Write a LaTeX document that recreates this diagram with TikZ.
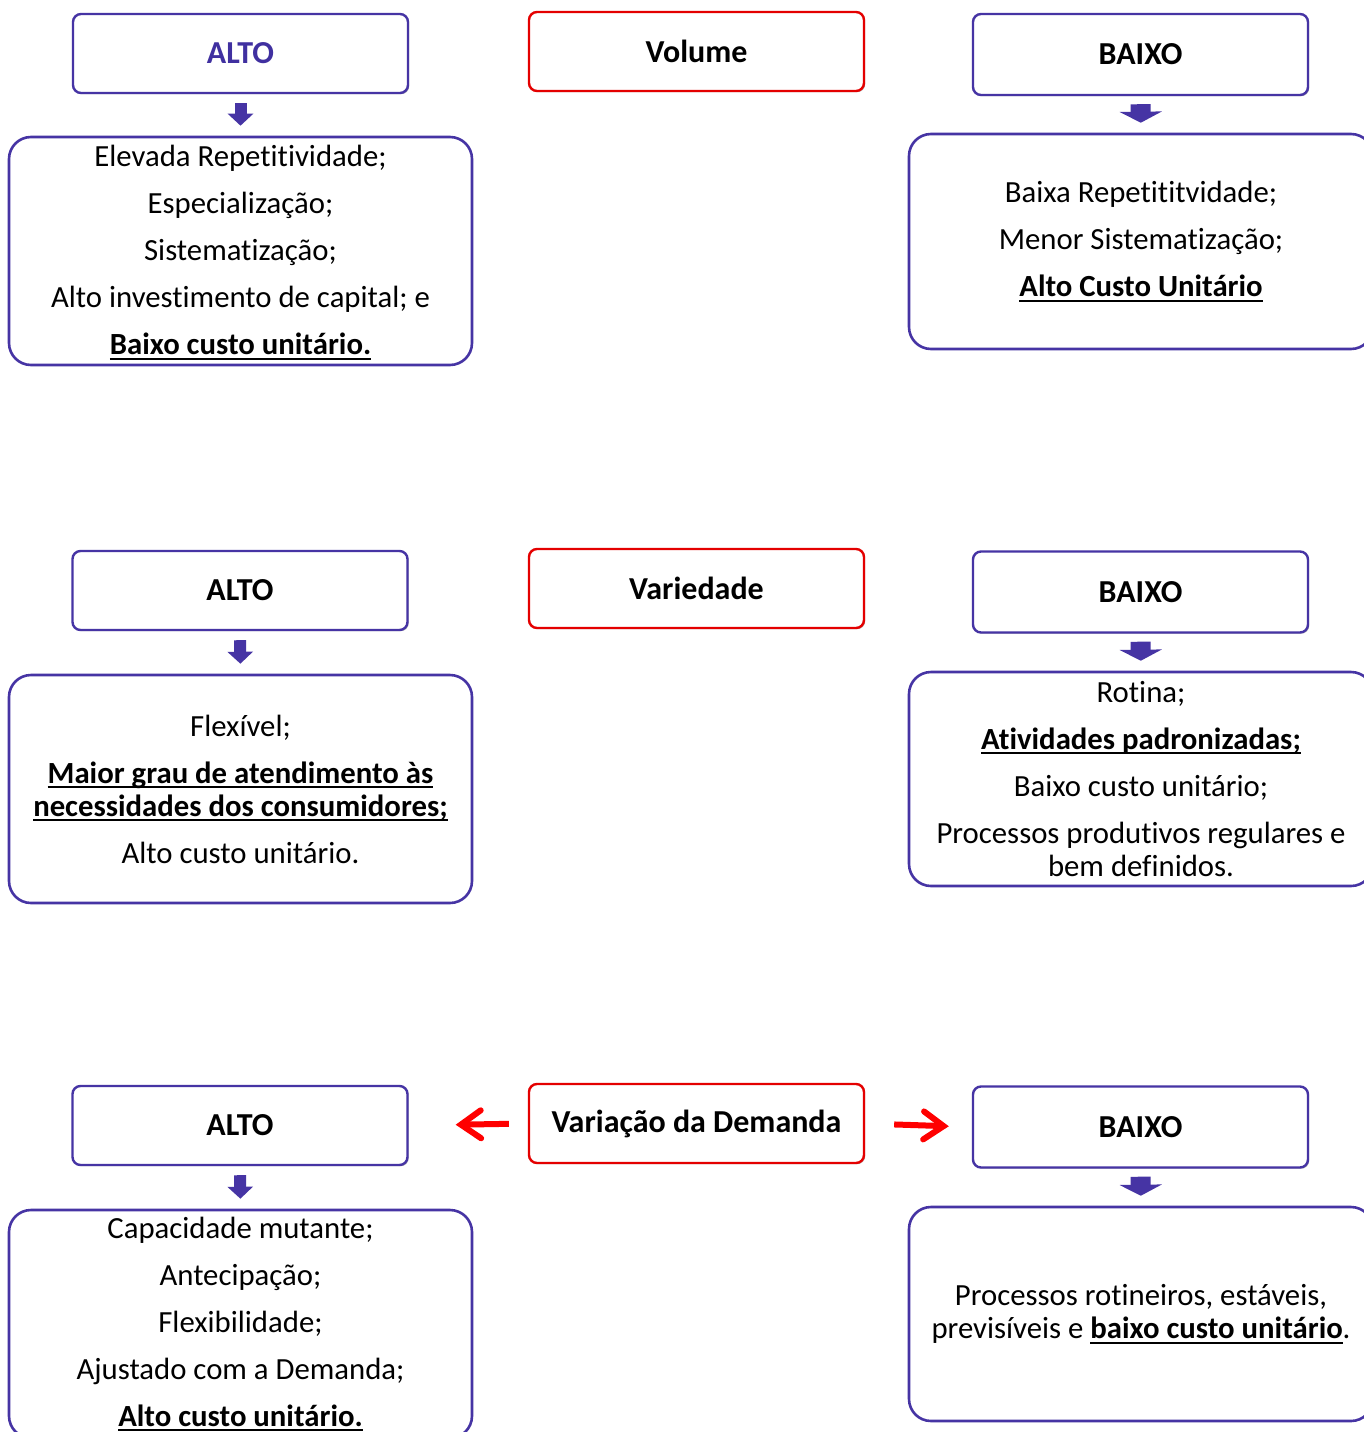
\documentclass[tikz,border=0pt]{standalone}
\usepackage{fontspec}
\setmainfont[Ligatures={NoCommon,NoContextual,NoRare},Contextuals=NoAlternate]{Carlito}
\usetikzlibrary{arrows.meta,shadows}
\definecolor{boxpurple}{HTML}{4634A4}
\definecolor{txtpurple}{HTML}{4030A0}
\definecolor{boxred}{HTML}{E40000}
\definecolor{arrred}{HTML}{FF0000}
\newsavebox\ulbox
\newcommand\myul[1]{\sbox\ulbox{#1}\rlap{\rule[-5pt]{\wd\ulbox}{2pt}}\usebox\ulbox}
\tikzset{
  hdr/.style={draw=boxpurple, line width=2.4pt, rounded corners=8pt, fill=white,
    minimum width=335pt, minimum height=79pt, inner sep=0pt,
    font=\bfseries\fontsize{32}{38}\selectfont,
    drop shadow={shadow xshift=1.2pt, shadow yshift=-1.2pt, fill=black!55}},
  redhdr/.style={hdr, draw=boxred},
  content/.style={draw=boxpurple, line width=2.6pt, rounded corners=22pt, fill=white,
    minimum width=463pt, inner sep=0pt, align=center,
    font=\fontsize{30.75}{33}\selectfont},
  downA/.style={draw=boxpurple, line width=12pt,
    -{Triangle[length=12pt,width=25pt]}, shorten <=9pt, shorten >=10pt},
  downB/.style={draw=boxpurple, line width=20pt,
    -{Triangle[length=11pt,width=42pt]}, shorten <=8pt, shorten >=10pt},
  redarr/.style={draw=arrred, line width=6pt,
    -{Straight Barb[length=20pt,width=28pt,line cap=round]}}
}
\begin{document}
\begin{tikzpicture}[x=1pt,y=-1pt]
\useasboundingbox (0,0) rectangle (1364,1432);
\clip (0,0) rectangle (1364,1432);
\fill[white] (0,0) rectangle (1364,1432);

% ---------- Row 1: Volume ----------
\node[hdr, text=txtpurple] (a1) at (240.5,53.5) {ALTO};
\node[redhdr] (v1) at (696.5,51.5) {Volume};
\node[hdr, minimum height=81pt] (b1) at (1140.5,54.5) {BAIXO};
\node[content, minimum height=228pt, text depth=1.5pt] (ca1) at (240.5,251) {Elevada Repetitividade;\\[14pt]
  Especialização;\\[14pt]
  Sistematização;\\[14pt]
  Alto investimento de capital; e\\[14pt]
  \myul{\textbf{Baixo custo unitário.}}};
\node[content, minimum width=464pt, minimum height=215pt] (cb1) at (1141,241.5) {Baixa Repetititvidade;\\[14pt]
  Menor Sistematização;\\[14pt]
  \myul{\textbf{Alto Custo Unitário}}};
\draw[downA] (a1.south) -- (ca1.north);
\draw[downB] (b1.south) -- (cb1.north);

% ---------- Row 2: Variedade ----------
\node[hdr] (a2) at (240,590.5) {ALTO};
\node[redhdr] (v2) at (696.5,588.5) {Variedade};
\node[hdr, minimum height=81pt] (b2) at (1140.5,592) {BAIXO};
\node[content, minimum height=228pt] (ca2) at (240.5,789) {Flexível;\\[14pt]
  \myul{\textbf{Maior grau de atendimento às}}\\
  \myul{\textbf{necessidades dos consumidores;}}\\[14pt]
  Alto custo unitário.};
\node[content, minimum width=464pt, minimum height=214pt] (cb2) at (1141,779) {Rotina;\\[14pt]
  \myul{\textbf{Atividades padronizadas;}}\\[14pt]
  Baixo custo unitário;\\[14pt]
  Processos produtivos regulares e\\
  bem definidos.};
\draw[downA] (a2.south) -- (ca2.north);
\draw[downB] (b2.south) -- (cb2.north);

% ---------- Row 3: Variação da Demanda ----------
\node[hdr] (a3) at (240,1125.5) {ALTO};
\node[redhdr] (v3) at (696.5,1123.5) {Variação da Demanda};
\node[hdr, minimum height=81pt] (b3) at (1140.5,1127) {BAIXO};
\node[content, minimum height=228pt] (ca3) at (240.5,1324) {Capacidade mutante;\\[14pt]
  Antecipação;\\[14pt]
  Flexibilidade;\\[14pt]
  Ajustado com a Demanda;\\[14pt]
  \myul{\textbf{Alto custo unitário.}}};
\node[content, minimum width=464pt, minimum height=214pt] (cb3) at (1141,1314) {Processos rotineiros, estáveis,\\
  previsíveis e \myul{\textbf{baixo custo unitário}}.};
\draw[downA] (a3.south) -- (ca3.north);
\draw[downB] (b3.south) -- (cb3.north);
\draw[redarr, shorten <=19pt, shorten >=47pt] (v3.west) -- (a3.east);
\draw[redarr, shorten <=29pt, shorten >=23pt] (v3.east) -- (b3.west);
\end{tikzpicture}
\end{document}
